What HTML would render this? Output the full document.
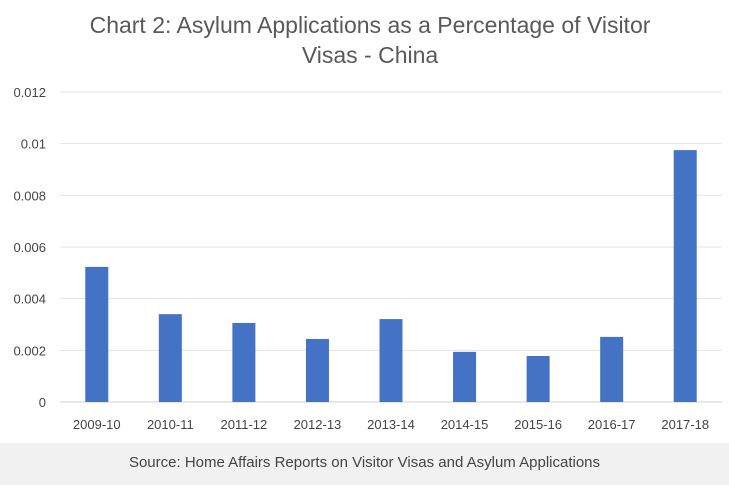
<!DOCTYPE html>
<html><head><meta charset="utf-8"><style>
body{margin:0;background:#fff;width:729px;height:485px;overflow:hidden;font-family:"Liberation Sans",sans-serif}
#footer{position:absolute;left:0;top:443px;width:729px;height:42px;background:#f1f1f1;color:#444;font-size:15px;text-align:center;line-height:40px}
</style></head><body>
<svg id="chart" width="729" height="443" style="position:absolute;left:0;top:0">
<text x="370" y="33" text-anchor="middle" font-size="23" fill="#595959">Chart 2: Asylum Applications as a Percentage of Visitor</text>
<text x="370" y="63" text-anchor="middle" font-size="23" fill="#595959">Visas - China</text>
<g id="grid"></g><g id="bars"></g><g id="xlabels"></g>
</svg>
<div id="footer">Source: Home Affairs Reports on Visitor Visas and Asylum Applications</div>
<script>
const categories=["2009-10","2010-11","2011-12","2012-13","2013-14","2014-15","2015-16","2016-17","2017-18"];
const values=[0.00523,0.0034,0.00306,0.00244,0.00321,0.00194,0.00178,0.00252,0.00975];
const yTicks=[0,0.002,0.004,0.006,0.008,0.01,0.012];
const yTickLabels=["0","0.002","0.004","0.006","0.008","0.01","0.012"];
const NS="http://www.w3.org/2000/svg";
const x0=60,x1=722,yb=402,yt=92,ymax=0.012;
const y=v=>yb-(v/ymax)*(yb-yt);
const step=(x1-x0)/categories.length;
const xc=i=>x0+step*(i+0.5);
function mk(t,a,p){const e=document.createElementNS(NS,t);for(const k in a)e.setAttribute(k,a[k]);p.appendChild(e);return e;}
const grid=document.getElementById('grid');
yTicks.forEach((v,i)=>{
 const l=mk('line',{x1:x0,x2:x1,y1:y(v),y2:y(v),stroke:i==0?'#d0d0d0':'#e3e3e3','stroke-width':1},grid);
 
 
 const t=mk('text',{x:46,y:y(v)+5,'text-anchor':'end','font-size':13,fill:'#444'},grid);
 t.textContent=yTickLabels[i];
 
 
});
const bars=document.getElementById('bars'),xl=document.getElementById('xlabels');
categories.forEach((c,i)=>{
 const r=mk('rect',{x:xc(i)-11.5,y:y(values[i]),width:23,height:yb-y(values[i]),fill:'#4472c4'},bars);
 
 
 const t=mk('text',{x:xc(i),y:429,'text-anchor':'middle','font-size':13,fill:'#444'},xl);
 t.textContent=c;
 
 
});
</script>
</body></html>
